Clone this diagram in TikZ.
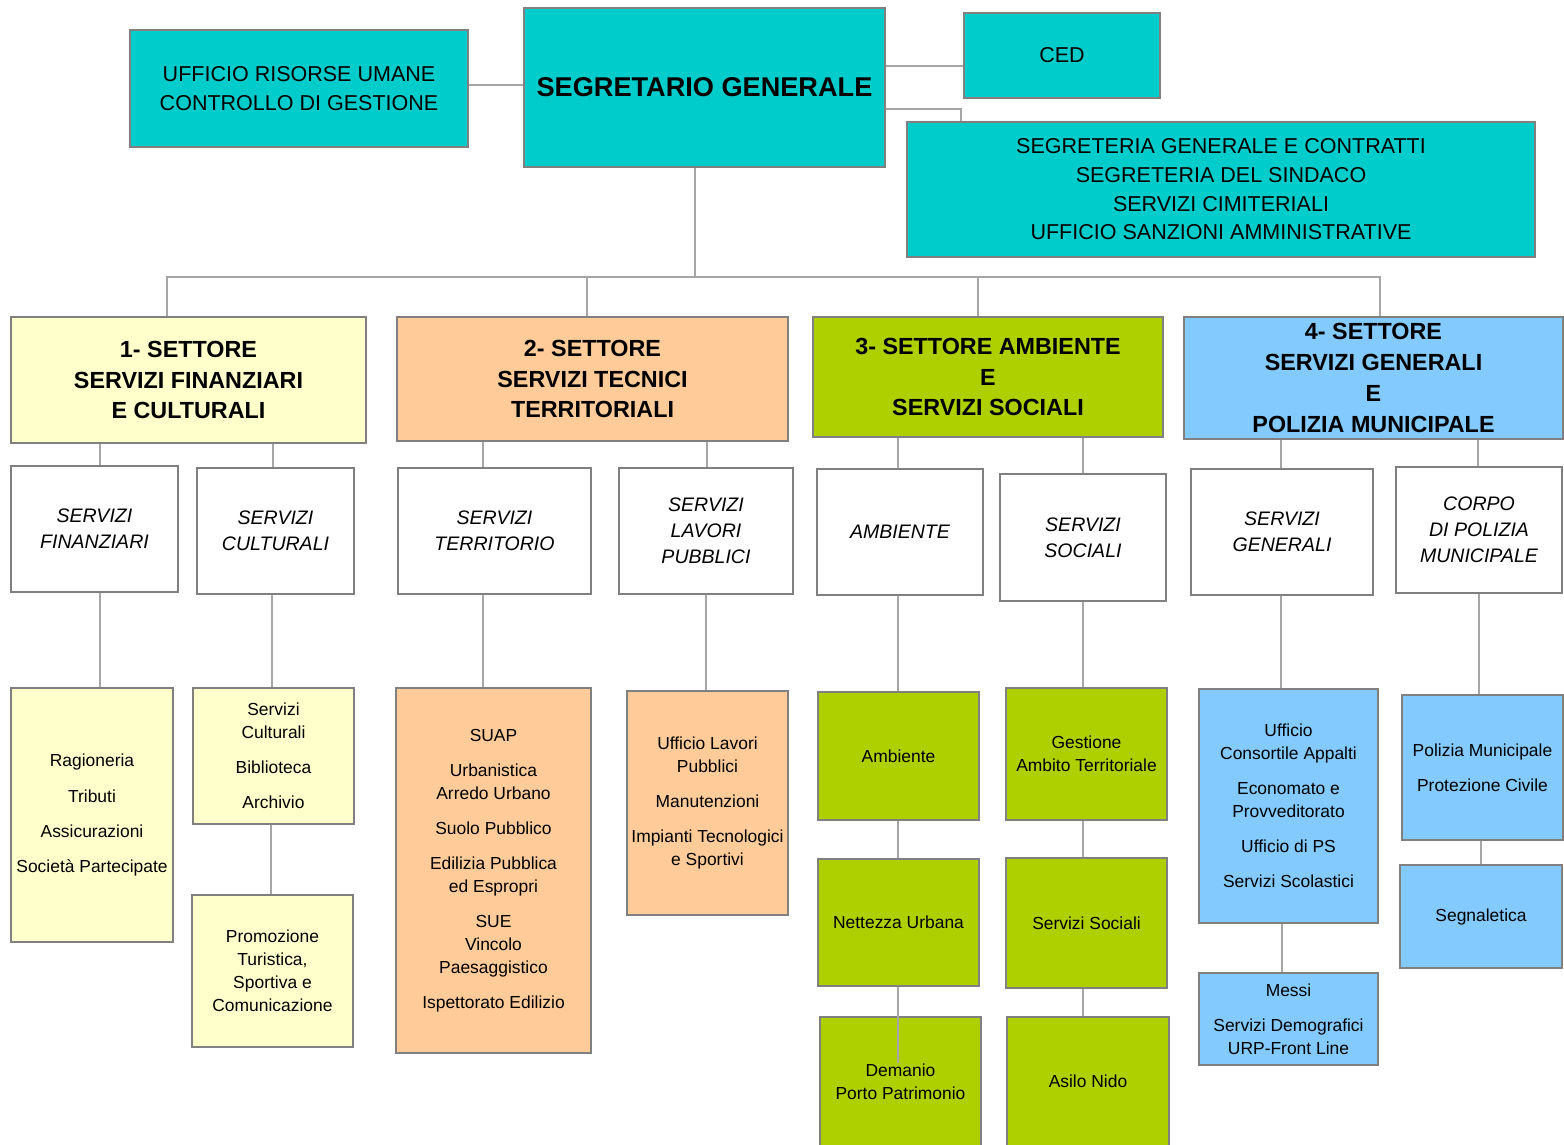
\documentclass[tikz,border=0pt]{standalone}
\usepackage{fontspec}
\setmainfont{Liberation Sans}
\definecolor{ciano}{HTML}{00CCCC}
\definecolor{giallo}{HTML}{FFFFCC}
\definecolor{arancio}{HTML}{FFCC99}
\definecolor{verde}{HTML}{AECF00}
\definecolor{azzurro}{HTML}{83CAFF}
\definecolor{bordo}{HTML}{808080}
\definecolor{linea}{HTML}{A6A6A6}
\newcommand{\gap}{\\[8.5pt]}
\tikzset{
  box/.style={draw=bordo,line width=1pt,inner sep=1pt,align=center,text=black},
  wh/.style 2 args={minimum width=#1*0.025cm,minimum height=#2*0.025cm},
  conn/.style={draw=linea,line width=1.1pt},
  testa/.style={box,fill=ciano,font=\fontsize{15.3}{20.4}\selectfont},
  capo/.style={box,fill=ciano,font=\fontsize{19.3}{24}\selectfont\bfseries},
  settore/.style={box,font=\fontsize{16.6}{22}\selectfont\bfseries},
  servizio/.style={box,fill=white,font=\fontsize{13.9}{18.5}\selectfont\itshape},
  ufficio/.style={box,font=\fontsize{12.4}{16.4}\selectfont}
}
\begin{document}
\begin{tikzpicture}[x=0.025cm,y=-0.025cm]

\useasboundingbox (0,0) rectangle (1564,1144);

% vertice
\node[testa,wh={338}{117}] (risorse) at (299,88.5) {UFFICIO RISORSE UMANE\\CONTROLLO DI GESTIONE};
\node[capo,wh={361}{159}] (segr) at (704.5,87.5) {SEGRETARIO GENERALE};
\node[testa,wh={196}{85}] (ced) at (1062,55.5) {CED};
\node[testa,wh={628}{135}] (segreteria) at (1221,189.5) {SEGRETERIA GENERALE E CONTRATTI\\SEGRETERIA DEL SINDACO\\SERVIZI CIMITERIALI\\UFFICIO SANZIONI AMMINISTRATIVE};

% settori
\node[settore,fill=giallo,wh={355}{126}] (s1) at (188.5,380) {1- SETTORE\\SERVIZI FINANZIARI\\E CULTURALI};
\node[settore,fill=arancio,wh={391}{124}] (s2) at (592.5,379) {2- SETTORE\\SERVIZI TECNICI\\TERRITORIALI};
\node[settore,fill=verde,wh={350}{120}] (s3) at (988,377) {3- SETTORE AMBIENTE\\E\\SERVIZI SOCIALI};
\node[settore,fill=azzurro,wh={379}{122}] (s4) at (1373.5,378) {4- SETTORE\\SERVIZI GENERALI\\E\\POLIZIA MUNICIPALE};

% servizi
\node[servizio,wh={167}{126}] (fin) at (94.5,529) {SERVIZI\\FINANZIARI};
\node[servizio,wh={157}{126}] (cult) at (275.5,531) {SERVIZI\\CULTURALI};
\node[servizio,wh={193}{126}] (terr) at (494.5,531) {SERVIZI\\TERRITORIO};
\node[servizio,wh={174}{126}] (lp) at (706,531) {SERVIZI\\LAVORI\\PUBBLICI};
\node[servizio,wh={166}{126}] (amb) at (900,532) {AMBIENTE};
\node[servizio,wh={166}{127}] (soc) at (1083,537.5) {SERVIZI\\SOCIALI};
\node[servizio,wh={182}{126}] (gen) at (1282,532) {SERVIZI\\GENERALI};
\node[servizio,wh={166}{126}] (corpo) at (1479,530) {CORPO\\DI POLIZIA\\MUNICIPALE};

% uffici
\node[ufficio,fill=giallo,wh={162}{254}] (rag) at (92,815) {Ragioneria\gap Tributi\gap Assicurazioni\gap Società Partecipate};
\node[ufficio,fill=giallo,wh={161}{136}] (bib) at (273.5,756) {Servizi\\Culturali\gap Biblioteca\gap Archivio};
\node[ufficio,fill=giallo,wh={161}{152}] (prom) at (272.5,971) {Promozione\\Turistica,\\Sportiva e\\Comunicazione};
\node[ufficio,fill=arancio,wh={195}{365}] (suap) at (493.5,870.5) {SUAP\gap Urbanistica\\Arredo Urbano\gap Suolo Pubblico\gap Edilizia Pubblica\\ed Espropri\gap SUE\\Vincolo\\Paesaggistico\gap Ispettorato Edilizio};
\node[ufficio,fill=arancio,wh={161}{224}] (ulp) at (707.5,803) {Ufficio Lavori\\Pubblici\gap Manutenzioni\gap Impianti Tecnologici\\e Sportivi};
\node[ufficio,fill=verde,wh={161}{128}] (ambg) at (898.5,756) {Ambiente};
\node[ufficio,fill=verde,wh={161}{127}] (nett) at (898.5,922.5) {Nettezza Urbana};
\node[ufficio,fill=verde,wh={161}{129}] (dem) at (900.5,1081.5) {Demanio\\Porto Patrimonio};
\node[ufficio,fill=verde,wh={161}{132}] (gest) at (1086.5,754) {Gestione\\Ambito Territoriale};
\node[ufficio,fill=verde,wh={161}{130}] (ssoc) at (1086.5,923) {Servizi Sociali};
\node[ufficio,fill=verde,wh={162}{129}] (asilo) at (1088,1081.5) {Asilo Nido};
\node[ufficio,fill=azzurro,wh={179}{234}] (cons) at (1288.5,806) {Ufficio\\Consortile Appalti\gap Economato e\\Provveditorato\gap Ufficio di PS\gap Servizi Scolastici};
\node[ufficio,fill=azzurro,wh={179}{92}] (messi) at (1288.5,1019) {Messi\gap Servizi Demografici\\URP-Front Line};
\node[ufficio,fill=azzurro,wh={161}{145}] (pm) at (1482.5,767.5) {Polizia Municipale\gap Protezione Civile};
\node[ufficio,fill=azzurro,wh={162}{103}] (segn) at (1481,916.5) {Segnaletica};

% collegamenti
\coordinate (bus) at (695,277);
\draw[conn] (risorse.east |- 0,85) -- (segr.west |- 0,85);
\draw[conn] (segr.east |- 0,66) -- (ced.west |- 0,66);
\draw[conn] (segr.east |- 0,109) -| (segreteria.north -| 961,0);
\draw[conn] (segr.south -| bus) -- (bus);
\draw[conn] (s1.north -| 167,0) |- (bus) -| (s4.north -| 1380,0);
\draw[conn] (s2.north -| 587,0) -- (587,277);
\draw[conn] (s3.north -| 978,0) -- (978,277);

\draw[conn] (s1.south -| 100,0) -- (fin.north -| 100,0);
\draw[conn] (s1.south -| 273,0) -- (cult.north -| 273,0);
\draw[conn] (s2.south -| 483,0) -- (terr.north -| 483,0);
\draw[conn] (s2.south -| 707,0) -- (lp.north -| 707,0);
\draw[conn] (s3.south -| 898,0) -- (amb.north -| 898,0);
\draw[conn] (s3.south -| 1083,0) -- (soc.north -| 1083,0);
\draw[conn] (s4.south -| 1281,0) -- (gen.north -| 1281,0);
\draw[conn] (s4.south -| 1478,0) -- (corpo.north -| 1478,0);

\draw[conn] (fin.south -| 100,0) -- (rag.north -| 100,0);
\draw[conn] (cult.south -| 272,0) -- (bib.north -| 272,0);
\draw[conn] (bib.south -| 271,0) -- (prom.north -| 271,0);
\draw[conn] (terr.south -| 483,0) -- (suap.north -| 483,0);
\draw[conn] (lp.south -| 706,0) -- (ulp.north -| 706,0);
\draw[conn] (amb.south -| 898,0) -- (ambg.north -| 898,0);
\draw[conn] (ambg.south -| 898,0) -- (nett.north -| 898,0);
\draw[conn] (nett.south -| 898,0) -- (898,1063);
\draw[conn] (soc.south -| 1083,0) -- (gest.north -| 1083,0);
\draw[conn] (gest.south -| 1083,0) -- (ssoc.north -| 1083,0);
\draw[conn] (ssoc.south -| 1083,0) -- (asilo.north -| 1083,0);
\draw[conn] (gen.south -| 1281,0) -- (cons.north -| 1281,0);
\draw[conn] (cons.south -| 1282,0) -- (messi.north -| 1282,0);
\draw[conn] (corpo.south -| 1479,0) -- (pm.north -| 1479,0);
\draw[conn] (pm.south -| 1481,0) -- (segn.north -| 1481,0);
\end{tikzpicture}
\end{document}
